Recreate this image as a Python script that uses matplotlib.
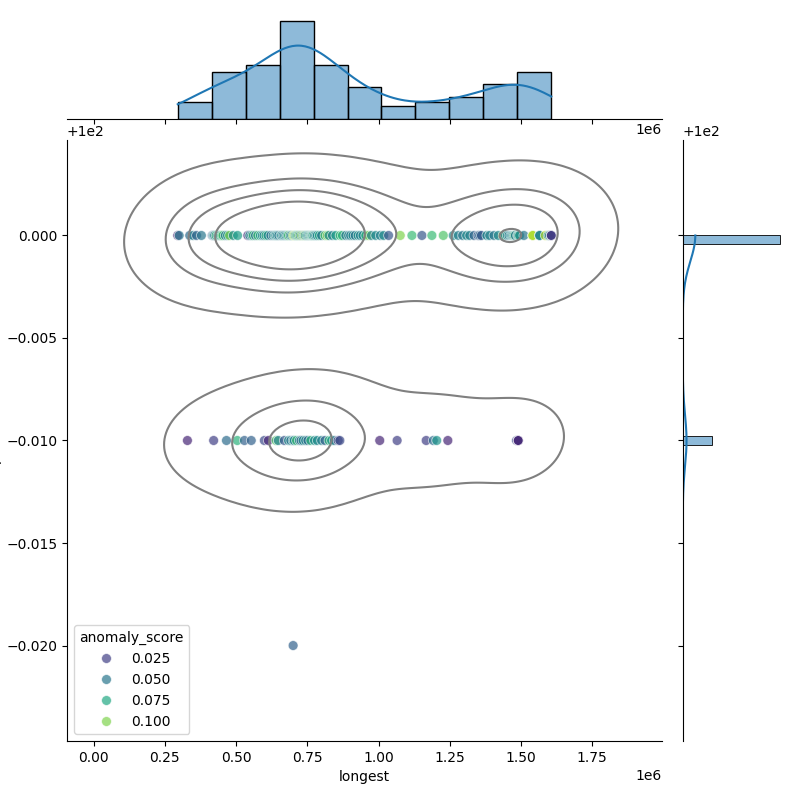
import numpy as np
import pandas as pd
import matplotlib
matplotlib.use("Agg")
import matplotlib.pyplot as plt
import seaborn as sns

# ---- data (x in millions) ----
top_x = [
    0.295, 0.300, 0.337, 0.349, 0.361, 0.378,
    0.416, 0.419, 0.422, 0.425, 0.430, 0.436, 0.440, 0.445, 0.450, 0.454, 0.462, 0.470, 0.477, 0.490, 0.505,
    0.541, 0.548, 0.555, 0.560, 0.568, 0.576, 0.585, 0.592, 0.598, 0.605, 0.612, 0.622, 0.630, 0.636, 0.640, 0.645, 0.650,
    0.657, 0.660, 0.665, 0.670, 0.675, 0.680, 0.684, 0.690, 0.695, 0.700, 0.704, 0.708, 0.712, 0.716,
    0.720, 0.725, 0.730, 0.735, 0.739, 0.743, 0.748, 0.752, 0.756, 0.760, 0.764, 0.767, 0.770,
    0.775, 0.780, 0.785, 0.792, 0.800, 0.812, 0.820, 0.826, 0.838, 0.850, 0.865, 0.873, 0.885,
    0.895, 0.902, 0.910, 0.918, 0.928, 0.936, 0.945, 0.955, 0.965, 0.975, 0.990, 1.006,
    1.018, 1.035, 1.076, 1.117,
    1.152, 1.187, 1.227,
    1.262, 1.280, 1.295, 1.309, 1.320, 1.335, 1.349, 1.355, 1.361,
    1.380, 1.390, 1.405, 1.420, 1.437, 1.445, 1.452, 1.458, 1.464, 1.468, 1.472, 1.476, 1.480,
    1.488, 1.491, 1.495, 1.510, 1.541, 1.541, 1.541, 1.565, 1.565, 1.565, 1.585, 1.595, 1.600, 1.606,
    1.606, 1.606,
]
top_score = [
    0.015, 0.050, 0.045, 0.055, 0.040, 0.050,
    0.035, 0.055, 0.060, 0.050, 0.085, 0.055, 0.080, 0.060, 0.090, 0.085, 0.050, 0.065, 0.100, 0.060, 0.070,
    0.020, 0.060, 0.055, 0.085, 0.050, 0.085, 0.070, 0.060, 0.055, 0.080, 0.060, 0.045, 0.055, 0.065, 0.055, 0.060, 0.050,
    0.055, 0.065, 0.050, 0.060, 0.055, 0.070, 0.090, 0.050, 0.060, 0.105, 0.100, 0.055, 0.085, 0.060,
    0.095, 0.050, 0.100, 0.060, 0.100, 0.055, 0.075, 0.060, 0.050, 0.085, 0.065, 0.055, 0.080,
    0.055, 0.060, 0.060, 0.075, 0.050, 0.090, 0.100, 0.060, 0.055, 0.070, 0.085, 0.080, 0.050,
    0.055, 0.055, 0.060, 0.050, 0.065, 0.055, 0.060, 0.080, 0.100, 0.055, 0.060, 0.055,
    0.060, 0.035, 0.100, 0.085,
    0.035, 0.085, 0.090,
    0.060, 0.055, 0.050, 0.060, 0.055, 0.040, 0.035, 0.045, 0.035,
    0.060, 0.055, 0.050, 0.060, 0.100, 0.055, 0.060, 0.050, 0.065, 0.055, 0.060, 0.085, 0.050,
    0.055, 0.080, 0.060, 0.050, 0.1235, 0.100, 0.110, 0.055, 0.050, 0.060, 0.110, 0.060, 0.050, 0.015,
    0.020, 0.025,
]
bottom_x = [
    0.329,
    0.421, 0.466, 0.504, 0.529,
    0.553, 0.599, 0.613, 0.640, 0.648,
    0.669, 0.684, 0.692, 0.700, 0.704, 0.712, 0.722, 0.728, 0.735, 0.744, 0.752, 0.762,
    0.775, 0.785, 0.800, 0.812, 0.826, 0.835, 0.845, 0.858, 0.864,
    1.004, 1.065,
    1.167, 1.192, 1.204, 1.243,
    1.484, 1.490, 1.490, 1.490,
]
bottom_score = [
    0.015,
    0.025, 0.045, 0.080, 0.040,
    0.040, 0.030, 0.015, 0.090, 0.055,
    0.035, 0.060, 0.050, 0.055, 0.060, 0.085, 0.055, 0.040, 0.060, 0.055, 0.045, 0.080,
    0.060, 0.060, 0.055, 0.040, 0.080, 0.070, 0.050, 0.025, 0.030,
    0.015, 0.025,
    0.025, 0.045, 0.065, 0.015,
    0.030, 0.002, 0.010, 0.020,
]
outlier_x = [0.700]
outlier_score = [0.040]

y_levels = [100.0, 99.99, 99.98]

longest = np.array(top_x + bottom_x + outlier_x) * 1e6
ident = np.array([y_levels[0]] * len(top_x) + [y_levels[1]] * len(bottom_x) + [y_levels[2]] * len(outlier_x))
score = np.array(top_score + bottom_score + outlier_score)
df = pd.DataFrame({"longest": longest, "pident": ident, "anomaly_score": score})

g = sns.JointGrid(data=df, x="longest", y="pident", height=8)
sns.scatterplot(data=df, x="longest", y="pident", hue="anomaly_score", palette="viridis",
                alpha=0.7, s=50, ax=g.ax_joint)
sns.kdeplot(data=df, x="longest", y="pident", color="gray", levels=5, bw_adjust=0.83, ax=g.ax_joint)
sns.histplot(data=df, x="longest", bins=11, kde=True, kde_kws={"bw_adjust": 0.8}, ax=g.ax_marg_x)
sns.histplot(data=df, y="pident", bins=49, kde=True, kde_kws={"bw_adjust": 0.8}, ax=g.ax_marg_y)
g.ax_joint.legend(loc="lower left", title="anomaly_score")

fig = g.figure
fig.set_size_inches(8, 8)
W = H = 800.0
def pos(l, t, r, b):
    return [l / W, 1 - b / H, (r - l) / W, (b - t) / H]
g.ax_joint.set_position(pos(67, 140, 662, 741))
g.ax_marg_x.set_position(pos(67, 16, 662, 118.7))
g.ax_marg_y.set_position(pos(682.7, 140, 785, 741))
fig.savefig("out.png", dpi=100)
